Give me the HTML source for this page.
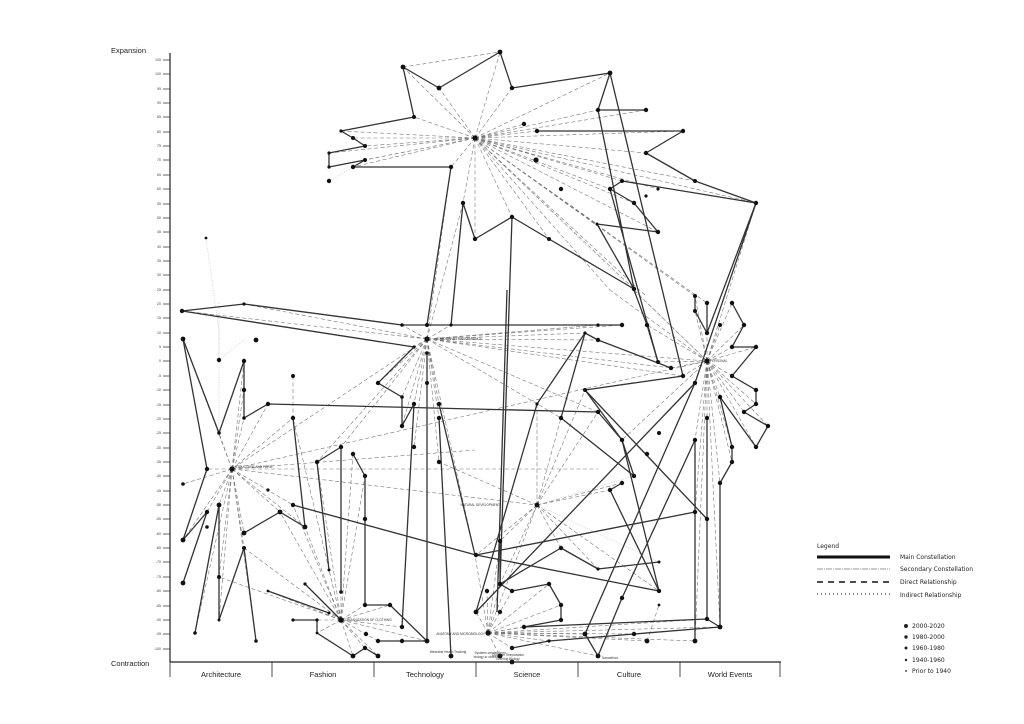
<!DOCTYPE html>
<html><head><meta charset="utf-8"><style>
html,body{margin:0;padding:0;background:#fff;}
svg{display:block;font-family:"Liberation Sans",sans-serif;}
</style></head><body>
<svg width="1024" height="724" viewBox="0 0 1024 724" xmlns="http://www.w3.org/2000/svg">
<rect width="1024" height="724" fill="#fff"/>
<!-- axes -->
<text x="111" y="53" font-size="7.5" fill="#222">Expansion</text>
<text x="111" y="666" font-size="7.5" fill="#222">Contraction</text>
<line x1="170" y1="53" x2="170" y2="662" stroke="#222" stroke-width="1.2"/>
<g stroke="#333" stroke-width="0.8">
<path d="M163 60H170M163 74H170M163 89H170M163 103H170M163 117H170M163 132H170M163 146H170M163 160H170M163 175H170M163 189H170M163 204H170M163 218H170M163 232H170M163 247H170M163 261H170M163 275H170M163 290H170M163 304H170M163 318H170M163 333H170M163 347H170M163 361H170M163 376H170M163 390H170M163 405H170M163 419H170M163 433H170M163 448H170M163 462H170M163 476H170M163 491H170M163 505H170M163 519H170M163 534H170M163 548H170M163 562H170M163 577H170M163 591H170M163 606H170M163 620H170M163 634H170M163 649H170"/>
</g>
<g font-size="3.6" fill="#444" text-anchor="end">
<text x="161" y="61">105</text><text x="161" y="75">100</text><text x="161" y="90">95</text><text x="161" y="104">90</text><text x="161" y="118">85</text><text x="161" y="133">80</text><text x="161" y="147">75</text><text x="161" y="161">70</text><text x="161" y="176">65</text><text x="161" y="190">60</text><text x="161" y="205">55</text><text x="161" y="219">50</text><text x="161" y="233">45</text><text x="161" y="248">40</text><text x="161" y="262">35</text><text x="161" y="276">30</text><text x="161" y="291">25</text><text x="161" y="305">20</text><text x="161" y="319">15</text><text x="161" y="334">10</text><text x="161" y="348">5</text><text x="161" y="362">0</text><text x="161" y="377">-5</text><text x="161" y="391">-10</text><text x="161" y="406">-15</text><text x="161" y="420">-20</text><text x="161" y="434">-25</text><text x="161" y="449">-30</text><text x="161" y="463">-35</text><text x="161" y="477">-40</text><text x="161" y="492">-45</text><text x="161" y="506">-50</text><text x="161" y="520">-55</text><text x="161" y="535">-60</text><text x="161" y="549">-65</text><text x="161" y="563">-70</text><text x="161" y="578">-75</text><text x="161" y="592">-80</text><text x="161" y="607">-85</text><text x="161" y="621">-90</text><text x="161" y="635">-95</text><text x="161" y="650">-100</text>
</g>
<line x1="170" y1="662" x2="781" y2="662" stroke="#222" stroke-width="1.2"/>
<path d="M170 662V677M272 662V677M374 662V677M476 662V677M578 662V677M680 662V677M780 662V677" stroke="#222" stroke-width="0.8"/>
<g font-size="7.5" fill="#222" text-anchor="middle">
<text x="221" y="677">Architecture</text><text x="323" y="677">Fashion</text><text x="425" y="677">Technology</text><text x="527" y="677">Science</text><text x="629" y="677">Culture</text><text x="730" y="677">World Events</text>
</g>

<!-- faint dotted secondary -->
<g stroke="#bbb" stroke-width="0.6" stroke-dasharray="1 1.5" fill="none">
<path d="M206 238L219 330L219 433M219 303L219 360M244 340L219 360M329 181L365 160M427 339L598 325M537 505L659 562M537 505L634 476M475 138L707 361M707 361L634 290"/>
</g>

<!-- dashed spokes -->
<g stroke="#777" stroke-width="0.6" stroke-dasharray="4 2.5" fill="none">
<path d="M475 138L403 67M475 138L439 88M475 138L500 52M475 138L512 88M475 138L610 73M475 138L598 110M475 138L646 110M475 138L524 124M475 138L537 131M475 138L683 131M475 138L646 153M475 138L695 181M475 138L756 203M475 138L622 181M475 138L610 189M475 138L658 189M475 138L634 203M475 138L658 232M475 138L597 224M475 138L634 289M475 138L549 239M475 138L512 217M475 138L475 239M475 138L463 203M475 138L451 167M475 138L414 117M475 138L341 131M475 138L353 138M475 138L365 146M475 138L329 153M475 138L329 167M475 138L365 160M475 138L353 167M475 138L610 290M475 138L646 296M475 138L695 296M475 138L707 303M403 67L500 52"/>
<path d="M427 339L182 311M427 339L244 304M427 339L402 325M427 339L451 325M427 339L598 325M427 339L622 325M427 339L585 333M427 339L598 340M427 339L671 368M427 339L683 376M427 339L707 361M427 339L414 347M427 339L378 383M427 339L402 397M427 339L402 426M427 339L414 404M427 339L439 404M427 339L439 418M427 339L439 462M427 339L414 447M427 339L341 447M427 339L317 462M427 339L232 469M427 339L475 555M427 339L463 203M427 339L451 167M427 339L598 412M427 339L561 418"/>
<path d="M232 469L183 339M232 469L219 433M232 469L244 361M232 469L244 390M232 469L244 418M232 469L268 404M232 469L207 469M232 469L183 540M232 469L207 512M232 469L219 505M232 469L195 633M232 469L219 577M232 469L219 620M232 469L244 533M232 469L244 548M232 469L256 641M232 469L280 512M232 469L183 484M232 469L293 505M232 469L305 527M232 469L293 418M232 469L598 469M232 469L537 505M232 469L707 361M293 376L293 418M232 469L475 450"/>
<path d="M707 361L695 296M707 361L695 311M707 361L707 303M707 361L707 333M707 361L720 325M707 361L732 303M707 361L744 325M707 361L732 347M707 361L756 347M707 361L732 376M707 361L756 390M707 361L756 404M707 361L744 412M707 361L768 426M707 361L756 447M707 361L720 397M707 361L732 447M707 361L732 462M707 361L720 483M707 361L695 440M707 361L707 418M707 361L695 512M707 361L707 519M707 361L683 376M707 361L671 368M707 361L647 325M707 361L658 362M707 361L634 290M707 361L756 203M707 361L622 440M707 361L695 641M707 361L720 627M707 361L610 290"/>
<path d="M537 505L537 404M537 505L500 541M537 505L476 555M537 505L561 548M537 505L598 569M537 505L610 490M537 505L622 483M537 505L598 412M537 505L561 418M537 505L585 390M537 505L500 584M537 505L659 591M537 505L439 462M537 404L537 505"/>
<path d="M341 620L268 591M341 620L293 620M341 620L317 620M341 620L317 633M341 620L353 656M341 620L365 648M341 620L378 656M341 620L305 584M341 620L329 570M341 620L329 613M341 620L280 512M341 620L305 527M341 620L293 505M341 620L317 462M341 620L341 447M341 620L353 454M341 620L365 476M341 620L365 605M341 620L390 605M341 620L378 641M341 620L402 627M341 620L427 641M341 620L219 577M341 620L244 548M341 620L293 418"/>
<path d="M488 633L476 612M488 633L487 591M488 633L500 584M488 633L512 591M488 633L549 584M488 633L561 605M488 633L561 620M488 633L524 627M488 633L512 648M488 633L549 641M488 633L634 634M488 633L500 656M488 633L500 612M488 633L585 634M488 633L598 656M488 633L647 641M488 633L695 641M488 633L720 627M488 633L707 619M488 633L475 555M488 633L500 541M488 633L537 505M647 641L659 605"/>
</g>

<!-- main solid lines -->
<g stroke="#333" stroke-width="1.3" fill="none" stroke-linejoin="round">
<polyline points="403,67 439,88 500,52 512,88 610,73 598,110 646,110"/>
<polyline points="403,67 414,117 341,131 353,138 365,146 329,153 329,167 365,160 353,167 451,167 427,325"/>
<polyline points="451,325 463,203 475,239 512,217 549,239 634,289"/>
<path d="M512 217L500 584M507 290L497 612M610 73L683 376M598 110L634 289M610 189L658 362"/>
<polyline points="537,131 683,131 646,153 695,181 756,203 707,333"/>
<path d="M756 203L695 383"/>
<polyline points="756,203 622,181 610,189 634,203 658,232 597,224 634,289"/>
<polyline points="182,311 244,304 402,325 427,325 451,325 598,325 622,325"/>
<polyline points="182,311 414,347 378,383 402,397 402,426 414,404"/>
<polyline points="183,339 207,469 183,540 207,512 183,583"/>
<polyline points="183,339 219,433 244,361 244,418 268,404 598,412"/>
<path d="M219 505L195 633M219 505L219 577L219 620M244 548L219 620M244 548L256 641"/>
<polyline points="244,533 280,512 305,527 293,418"/>
<polyline points="293,505 476,555 659,591"/>
<polyline points="317,462 341,447 341,592"/>
<path d="M317 462L329 570M268 591L329 613M305 584L341 620M378 641L427 641M402 627L414 404M427 353L427 641M439 404L475 555M439 418L451 656"/>
<polyline points="353,454 365,476 365,605 390,605 427,641"/>
<polyline points="293,620 317,620 317,633 353,656 365,648 378,656"/>
<polyline points="585,333 537,404 476,612"/>
<polyline points="561,418 585,333 598,340 671,368"/>
<polyline points="634,290 647,325 658,362"/>
<polyline points="683,376 585,390 622,440 634,476"/>
<polyline points="598,412 622,440 659,591"/>
<path d="M585 390L707 519M695 512L476 555M695 383L476 612M707 418L707 619M695 440L695 641M610 490L622 483M610 490L659 591M561 548L500 584M561 418L634 476"/>
<polyline points="720,397 732,447 732,462 720,483 720,627"/>
<polyline points="561,548 598,569 659,562"/>
<polyline points="500,541 500,584 512,591 549,584 561,605 561,620 524,627 707,619 720,627 634,634 549,641 512,648"/>
<polyline points="585,634 598,656 622,598 695,440"/>
<path d="M585 634L695 383"/>
<polyline points="695,296 695,311 707,333 707,303"/>
<polyline points="732,303 744,325 732,347 756,347 732,376 756,390 756,404 744,412 768,426 756,447 720,397"/>
</g>

<!-- nodes -->
<g fill="#111">
<circle cx="403" cy="67" r="2.4"/><circle cx="439" cy="88" r="2.4"/><circle cx="500" cy="52" r="2.4"/><circle cx="512" cy="88" r="2.2"/><circle cx="610" cy="73" r="2.4"/><circle cx="598" cy="110" r="2.2"/><circle cx="646" cy="110" r="2.2"/><circle cx="524" cy="124" r="2.2"/><circle cx="537" cy="131" r="2.2"/><circle cx="683" cy="131" r="2.2"/><circle cx="646" cy="153" r="2.2"/><circle cx="695" cy="181" r="2"/><circle cx="756" cy="203" r="2.2"/><circle cx="622" cy="181" r="2"/><circle cx="610" cy="189" r="2.2"/><circle cx="658" cy="189" r="1.6"/><circle cx="646" cy="196" r="1.6"/><circle cx="634" cy="203" r="2.2"/><circle cx="658" cy="232" r="2.2"/><circle cx="597" cy="224" r="1.5"/><circle cx="634" cy="289" r="2.2"/><circle cx="549" cy="239" r="2"/><circle cx="512" cy="217" r="2.2"/><circle cx="475" cy="239" r="2.2"/><circle cx="463" cy="203" r="2.2"/><circle cx="451" cy="167" r="2.2"/><circle cx="414" cy="117" r="2"/><circle cx="341" cy="131" r="1.6"/><circle cx="353" cy="138" r="2"/><circle cx="365" cy="146" r="2"/><circle cx="329" cy="153" r="1.6"/><circle cx="329" cy="167" r="1.6"/><circle cx="365" cy="160" r="2"/><circle cx="353" cy="167" r="2.2"/><circle cx="329" cy="181" r="2.2"/><circle cx="536" cy="160" r="2.6"/><circle cx="561" cy="189" r="2.2"/><circle cx="475" cy="138" r="2.6"/>
<circle cx="182" cy="311" r="2.2"/><circle cx="244" cy="304" r="1.6"/><circle cx="402" cy="325" r="1.8"/><circle cx="427" cy="325" r="2"/><circle cx="451" cy="325" r="1.6"/><circle cx="598" cy="325" r="1.6"/><circle cx="622" cy="325" r="2.2"/><circle cx="427" cy="339" r="2.6"/><circle cx="414" cy="347" r="1.6"/><circle cx="427" cy="353" r="1.8"/><circle cx="427" cy="383" r="2"/><circle cx="378" cy="383" r="2.2"/><circle cx="402" cy="397" r="1.8"/><circle cx="402" cy="426" r="2.2"/><circle cx="414" cy="404" r="2.2"/><circle cx="439" cy="404" r="2.2"/><circle cx="439" cy="418" r="2.2"/><circle cx="439" cy="462" r="2.2"/><circle cx="414" cy="447" r="2.2"/><circle cx="206" cy="238" r="1.4"/>
<circle cx="183" cy="339" r="2.4"/><circle cx="219" cy="360" r="2.2"/><circle cx="256" cy="340" r="2.4"/><circle cx="244" cy="361" r="2.2"/><circle cx="244" cy="390" r="2.2"/><circle cx="244" cy="418" r="1.8"/><circle cx="268" cy="404" r="2.2"/><circle cx="219" cy="433" r="1.8"/><circle cx="207" cy="469" r="2.2"/><circle cx="232" cy="469" r="2.6"/><circle cx="183" cy="484" r="1.8"/><circle cx="183" cy="540" r="2.4"/><circle cx="207" cy="512" r="2.2"/><circle cx="219" cy="505" r="2.4"/><circle cx="207" cy="527" r="1.8"/><circle cx="183" cy="583" r="2.4"/><circle cx="195" cy="633" r="1.8"/><circle cx="219" cy="577" r="2"/><circle cx="219" cy="620" r="1.5"/><circle cx="244" cy="533" r="2.4"/><circle cx="244" cy="548" r="2"/><circle cx="256" cy="641" r="1.8"/><circle cx="268" cy="490" r="1.6"/><circle cx="293" cy="376" r="2"/><circle cx="293" cy="418" r="2.2"/>
<circle cx="280" cy="512" r="2.4"/><circle cx="293" cy="505" r="2.2"/><circle cx="305" cy="527" r="2.4"/><circle cx="317" cy="462" r="2.2"/><circle cx="341" cy="447" r="2.2"/><circle cx="353" cy="454" r="2.2"/><circle cx="365" cy="476" r="2.2"/><circle cx="365" cy="519" r="2.2"/><circle cx="341" cy="592" r="1.8"/><circle cx="329" cy="570" r="1.5"/><circle cx="365" cy="605" r="2.2"/><circle cx="390" cy="605" r="2.2"/><circle cx="341" cy="620" r="2.8"/><circle cx="268" cy="591" r="1.4"/><circle cx="293" cy="620" r="1.6"/><circle cx="317" cy="620" r="1.6"/><circle cx="317" cy="633" r="1.4"/><circle cx="305" cy="584" r="1.6"/><circle cx="329" cy="613" r="1.5"/><circle cx="353" cy="656" r="2.4"/><circle cx="365" cy="648" r="2.2"/><circle cx="378" cy="656" r="2.4"/><circle cx="366" cy="634" r="2.2"/><circle cx="378" cy="641" r="2.2"/><circle cx="402" cy="627" r="2.2"/><circle cx="402" cy="641" r="2.2"/><circle cx="427" cy="641" r="2.4"/><circle cx="451" cy="656" r="2.4"/>
<circle cx="585" cy="333" r="1.6"/><circle cx="598" cy="340" r="2.2"/><circle cx="537" cy="404" r="1.6"/><circle cx="671" cy="368" r="2.2"/><circle cx="683" cy="376" r="2.2"/><circle cx="647" cy="325" r="2.2"/><circle cx="658" cy="362" r="2"/><circle cx="585" cy="390" r="2"/><circle cx="561" cy="418" r="2.2"/><circle cx="598" cy="412" r="2.2"/><circle cx="622" cy="440" r="2.2"/><circle cx="659" cy="433" r="2"/><circle cx="647" cy="454" r="2.2"/><circle cx="634" cy="476" r="2.2"/><circle cx="622" cy="483" r="2.2"/><circle cx="610" cy="490" r="2.2"/><circle cx="537" cy="505" r="2.4"/><circle cx="561" cy="548" r="2.2"/><circle cx="598" cy="569" r="1.6"/><circle cx="659" cy="562" r="1.5"/><circle cx="659" cy="591" r="2.2"/><circle cx="622" cy="598" r="2.2"/><circle cx="659" cy="605" r="1.4"/><circle cx="476" cy="555" r="2.2"/><circle cx="500" cy="541" r="2.2"/>
<circle cx="695" cy="296" r="2"/><circle cx="695" cy="311" r="2"/><circle cx="707" cy="303" r="2.2"/><circle cx="707" cy="333" r="2.2"/><circle cx="720" cy="325" r="2"/><circle cx="732" cy="303" r="2.2"/><circle cx="744" cy="325" r="2.2"/><circle cx="732" cy="347" r="2.2"/><circle cx="756" cy="347" r="2.2"/><circle cx="707" cy="361" r="2.6"/><circle cx="732" cy="376" r="2.2"/><circle cx="756" cy="390" r="2.2"/><circle cx="756" cy="404" r="2.2"/><circle cx="744" cy="412" r="2.2"/><circle cx="768" cy="426" r="2.2"/><circle cx="756" cy="447" r="2.2"/><circle cx="720" cy="397" r="2.2"/><circle cx="695" cy="383" r="2.2"/><circle cx="707" cy="418" r="2.2"/><circle cx="695" cy="440" r="2.2"/><circle cx="732" cy="447" r="2.2"/><circle cx="732" cy="462" r="2.2"/><circle cx="720" cy="483" r="2.2"/><circle cx="695" cy="512" r="2.2"/><circle cx="707" cy="519" r="2.2"/>
<circle cx="476" cy="612" r="2.4"/><circle cx="487" cy="591" r="2.2"/><circle cx="500" cy="584" r="2.2"/><circle cx="512" cy="591" r="2.2"/><circle cx="549" cy="584" r="2.2"/><circle cx="561" cy="605" r="2.2"/><circle cx="561" cy="620" r="2.2"/><circle cx="524" cy="627" r="2.2"/><circle cx="500" cy="612" r="2.2"/><circle cx="488" cy="633" r="2.6"/><circle cx="512" cy="648" r="2.2"/><circle cx="549" cy="641" r="1.6"/><circle cx="500" cy="656" r="2.4"/><circle cx="512" cy="662" r="2.4"/><circle cx="585" cy="634" r="2.4"/><circle cx="598" cy="656" r="2.4"/><circle cx="634" cy="634" r="2.2"/><circle cx="647" cy="641" r="2.4"/><circle cx="695" cy="641" r="2.4"/><circle cx="720" cy="627" r="2.4"/><circle cx="707" cy="619" r="2.2"/>
</g>

<!-- hub labels -->
<g font-size="3.2" fill="#333">
<text x="436" y="340">SOLIDS AND TRANSPARENCY</text>
<text x="235" y="468">STRUCTURE AND FORM</text>
<text x="345" y="621">ORGANIZATION OF CLOTHING</text>
<text x="710" y="362">PERSONAL</text>
<text x="500" y="506" text-anchor="end">NATURAL DEVELOPMENT</text>
<text x="485" y="635" text-anchor="end">ANATOMY AND MICROBIOLOGY</text>
<text x="448" y="653" text-anchor="middle">Wearable Health Tracking</text>
<text x="490" y="654" text-anchor="middle">Systems created from</text>
<text x="490" y="658">&#160;</text>
<text x="486" y="658" text-anchor="middle">biology to clothes</text>
<text x="508" y="656" text-anchor="middle">Quantum Teleportation</text>
<text x="508" y="660" text-anchor="middle">Entering Biology</text>
<text x="610" y="659" text-anchor="middle">Nanoethics</text>
<text x="480" y="140">...</text>
</g>

<!-- legend -->
<g font-family="'DejaVu Sans','Liberation Sans',sans-serif" fill="#222">
<text x="817" y="548" font-size="6">Legend</text>
<line x1="817" y1="557" x2="890" y2="557" stroke="#111" stroke-width="3"/>
<text x="900" y="559" font-size="6">Main Constellation</text>
<line x1="817" y1="569" x2="890" y2="569" stroke="#333" stroke-width="0.6" stroke-dasharray="6 1 1 1"/>
<text x="900" y="571" font-size="6">Secondary Constellation</text>
<line x1="817" y1="582" x2="890" y2="582" stroke="#111" stroke-width="1.5" stroke-dasharray="6 5"/>
<text x="900" y="584" font-size="6">Direct Relationship</text>
<line x1="817" y1="594" x2="890" y2="594" stroke="#111" stroke-width="1" stroke-dasharray="1 3"/>
<text x="900" y="597" font-size="6">Indirect Relationship</text>
<circle cx="906" cy="626" r="2"/><text x="912" y="628" font-size="6">2000-2020</text>
<circle cx="906" cy="637" r="1.7"/><text x="912" y="639" font-size="6">1980-2000</text>
<circle cx="906" cy="648" r="1.5"/><text x="912" y="650" font-size="6">1960-1980</text>
<circle cx="906" cy="660" r="1.2"/><text x="912" y="662" font-size="6">1940-1960</text>
<circle cx="906" cy="671" r="0.9"/><text x="912" y="673" font-size="6">Prior to 1940</text>
</g>
</svg>
</body></html>
